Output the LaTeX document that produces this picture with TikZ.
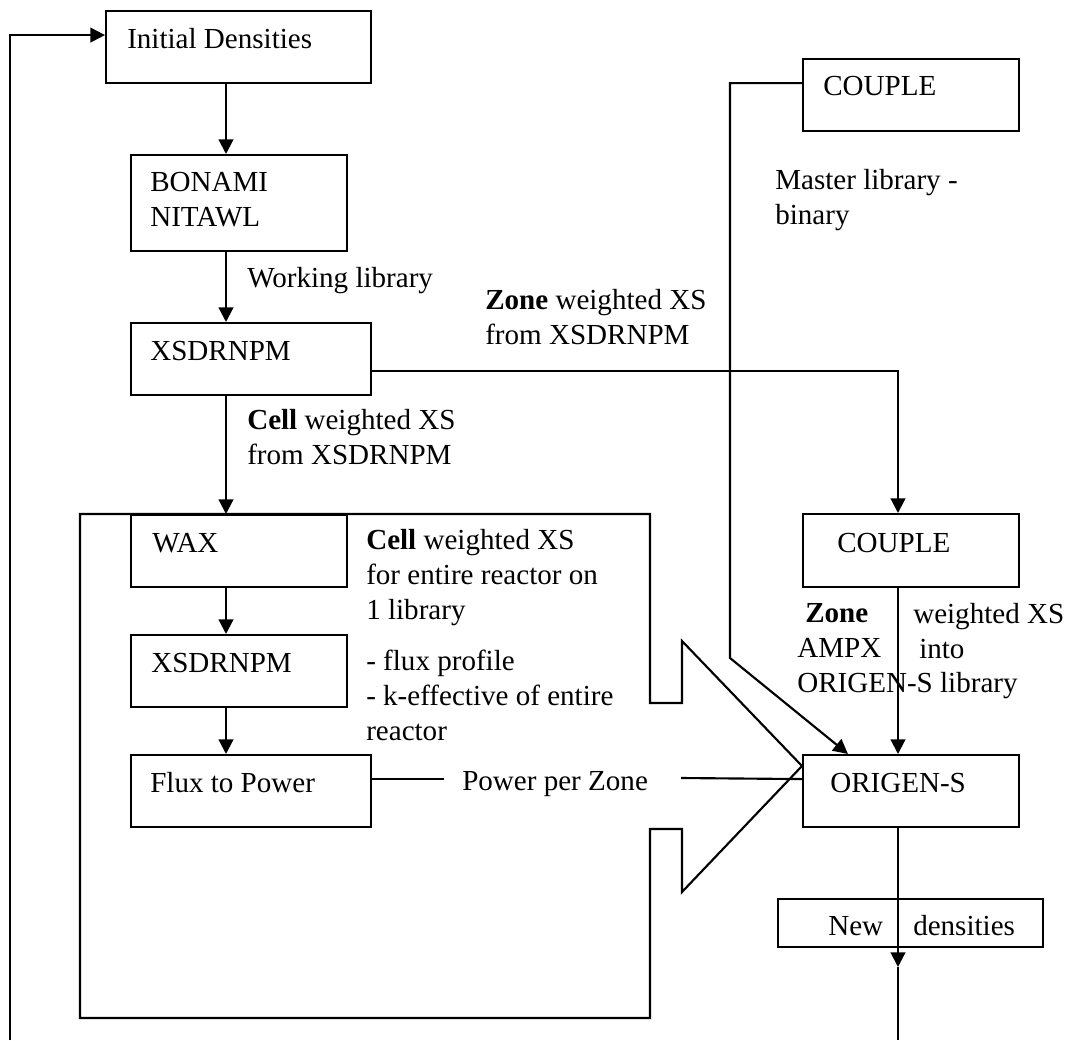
\documentclass[tikz,border=0pt]{standalone}
\usepackage{fontspec}
\setmainfont{Liberation Serif}
\usetikzlibrary{arrows.meta, calc}

\def\pxu{0.75pt}
\tikzset{
    box/.style={draw, line width=1.6pt, inner sep=0pt, anchor=north west},
    txt/.style={font=\fontsize{21.8}{26.25}\selectfont, inner sep=0pt, anchor=base west},
    multi/.style={txt, anchor=north west, align=left, yshift=13.9pt,
        execute at begin node={\vrule height 18.375pt depth 0pt width 0pt}},
    link/.style={line width=1.6pt},
    arr/.style={link, -{Triangle[length=11pt, width=11pt]}},
}

\begin{document}
\begin{tikzpicture}[x=\pxu, y=-\pxu]
    \useasboundingbox (0,0) rectangle (1068,1040);

    % left column
    \node[box, minimum width=265*\pxu, minimum height=72*\pxu] (init) at (105,10) {};
    \node[box, minimum width=216*\pxu, minimum height=96*\pxu] (bonami) at (130,154) {};
    \node[box, minimum width=240*\pxu, minimum height=72*\pxu] (xsd1) at (130,322) {};
    \node[box, minimum width=216*\pxu, minimum height=72*\pxu] (wax) at (130,514) {};
    \node[box, minimum width=216*\pxu, minimum height=72*\pxu] (xsd2) at (130,634) {};
    \node[box, minimum width=240*\pxu, minimum height=72*\pxu] (flux) at (130,754) {};

    % right column
    \node[box, minimum width=216*\pxu, minimum height=72*\pxu] (cpl1) at (802,58) {};
    \node[box, minimum width=216*\pxu, minimum height=73*\pxu] (cpl2) at (802,513) {};
    \node[box, minimum width=216*\pxu, minimum height=72*\pxu] (orig) at (802,754) {};
    \node[box, minimum width=265*\pxu, minimum height=48*\pxu] (newd) at (777,898) {};

    % box texts
    \node[txt] (init-t) at ($(init.north west)+(22,38)$) {Initial Densities};
    \node[multi] (bonami-t) at ($(bonami.north west)+(20,37)$) {BONAMI\\NITAWL};
    \node[txt] (xsd1-t) at ($(xsd1.north west)+(20,38)$) {XSDRNPM};
    \node[txt] (wax-t) at ($(wax.north west)+(22,38)$) {WAX};
    \node[txt] (xsd2-t) at ($(xsd2.north west)+(21,38)$) {XSDRNPM};
    \node[txt] (flux-t) at ($(flux.north west)+(20,38)$) {Flux to Power};
    \node[txt] (cpl1-t) at ($(cpl1.north west)+(21,37)$) {COUPLE};
    \node[txt] (cpl2-t) at ($(cpl2.north west)+(35,39)$) {COUPLE};
    \node[txt] (orig-t) at ($(orig.north west)+(28,38)$) {ORIGEN-S};
    \node[txt] (newd-l) at ($(newd.north west)+(51,37)$) {New};
    \node[txt] (newd-r) at ($(newd.north west)+(136,37)$) {densities};

    % flow labels
    \node[txt] (wlib) at (247,287) {Working library};
    \node[multi] (zxs) at (485,308) {\textbf{Zone} weighted XS\\from XSDRNPM};
    \node[multi] (cxs) at (247,428) {\textbf{Cell} weighted XS\\from XSDRNPM};
    \node[multi] (cxs2) at (366,548) {\textbf{Cell} weighted XS\\for entire reactor on\\1 library};
    \node[multi] (keff) at (366,668) {- flux profile\\- k-effective of entire\\reactor};
    \node[txt] (ppz) at (462,790) {Power per Zone};
    \node[multi] (mlib) at (775,188) {Master library -\\binary};
    \node[multi] (ampx) at (797,622) {\hspace*{6pt}\textbf{Zone}\\AMPX\\ORIGEN-S library};
    \node[multi] (into) at (913,622) {weighted XS\\\hspace*{4.5pt}into};

    % big arrow outline round the cell loop
    \draw[link] (80,514) -- (650,514) -- (650,703) -- (682,703) -- (682,641)
        -- (802,766) -- (682,892) -- (682,829) -- (650,829) -- (650,1018)
        -- (80,1018) -- cycle;

    % connectors
    \coordinate (col) at (226,0);
    \coordinate (col2) at (898,0);
    \coordinate (loopbot) at (10,1040);
    \coordinate (tip) at (898,967);
    \coordinate (pw) at ($(flux.east)+(0,-12)$);

    \draw[arr] (loopbot) |- ($(init.west)+(0,-12)$);
    \draw[arr] (col |- init.south) -- (col |- bonami.north);
    \draw[arr] (col |- bonami.south) -- (col |- xsd1.north);
    \draw[arr] (col |- xsd1.south) -- (col |- wax.north);
    \draw[arr] (col |- wax.south) -- (col |- xsd2.north);
    \draw[arr] (col |- xsd2.south) -- (col |- flux.north);

    \draw[arr] ($(xsd1.east)+(0,12)$) -| (col2 |- cpl2.north);
    \draw[arr] (col2 |- cpl2.south) -- (col2 |- orig.north);
    \draw[arr] ($(cpl1.west)+(0,-12)$) -| (730,658) -- ($(orig.north west)+(46,0)$);

    \draw[link] (pw) -- ++(72,0);
    \draw[link] (681,778) -- (orig.west |- pw);

    \draw[arr] (col2 |- orig.south) -- (tip);
    \draw[link] (tip) -- (898,1040);
\end{tikzpicture}
\end{document}
